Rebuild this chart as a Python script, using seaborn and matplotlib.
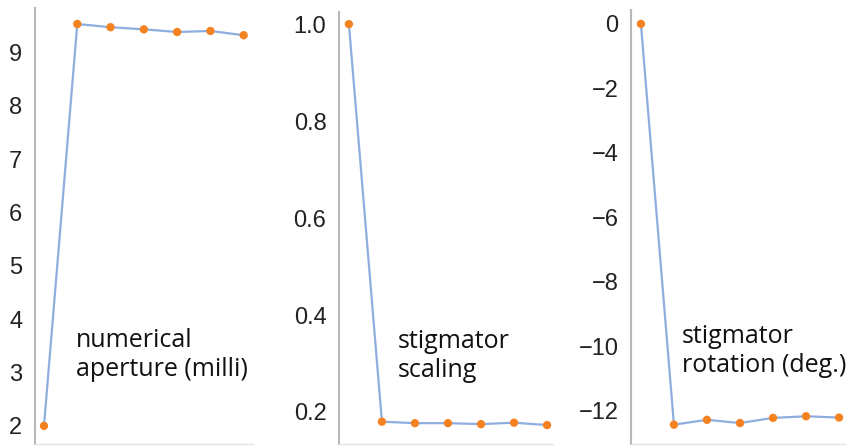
import matplotlib
matplotlib.use("Agg")
import matplotlib.pyplot as plt
import seaborn as sns
import pandas as pd
import numpy as np

steps = [0, 1, 2, 3, 4, 5, 6]
numerical_aperture = [2.0, 9.53, 9.47, 9.43, 9.38, 9.40, 9.32]
stigmator_scaling = [1.0, 0.180, 0.177, 0.177, 0.175, 0.178, 0.173]
stigmator_rotation = [0.0, -12.43, -12.28, -12.38, -12.22, -12.17, -12.21]

labels = ["numerical\naperture (milli)", "stigmator\nscaling", "stigmator\nrotation (deg.)"]
series = [numerical_aperture, stigmator_scaling, stigmator_rotation]
yticks = [[2, 3, 4, 5, 6, 7, 8, 9], [0.2, 0.4, 0.6, 0.8, 1.0], [0, -2, -4, -6, -8, -10, -12]]
yticklabels = [["2", "3", "4", "5", "6", "7", "8", "9"],
               ["0.2", "0.4", "0.6", "0.8", "1.0"],
               ["0", "\u22122", "\u22124", "\u22126", "\u22128", "\u221210", "\u221212"]]
ylims = [(1.66, 9.83), (0.134, 1.025), (-13.03, 0.43)]
xlims = [(-0.27, 6.28), (-0.30, 6.18), (-0.30, 6.18)]
positions = [(35, 253, 8), (339, 553, 12), (631, 845, 10)]
text_pos = [(76, 376), (398, 377), (682, 372)]

sns.set_theme(style="white")
plt.rcParams["font.family"] = ["Liberation Sans", "DejaVu Sans"]

W, H = 854, 446
fig = plt.figure(figsize=(W / 100, H / 100), dpi=100)

line_color = "#8eaee0"
pt_color = "#f58220"

for i in range(3):
    l, r, t = positions[i]
    b = 444
    ax = fig.add_axes([l / W, (H - b) / H, (r - l) / W, (b - t) / H])
    df = pd.DataFrame({"step": steps, "value": series[i]})
    sns.lineplot(data=df, x="step", y="value", ax=ax, color=line_color, linewidth=1.6)
    sns.scatterplot(data=df, x="step", y="value", ax=ax, color=pt_color, s=36,
                    edgecolor="none", zorder=3)
    ax.set_xlim(*xlims[i])
    ax.set_ylim(*ylims[i])
    ax.set_xticks([])
    ax.set_yticks(yticks[i])
    ax.set_yticklabels(yticklabels[i], fontsize=17, color="#222222")
    ax.tick_params(axis="y", length=0, pad=9)
    ax.set_xlabel("")
    ax.set_ylabel("")
    for s in ["top", "right"]:
        ax.spines[s].set_visible(False)
    ax.spines["left"].set_color("#b8b8b8")
    ax.spines["left"].set_linewidth(1.5)
    ax.spines["bottom"].set_color("#e4e4e4")
    ax.spines["bottom"].set_linewidth(1.0)
    tx, ty = text_pos[i]
    fig.text(tx / W, (H - ty) / H, labels[i], fontsize=18, family=["Open Sans", "DejaVu Sans"],
             color="#111111", ha="left", va="baseline", linespacing=1.2)

fig.savefig("out.png", dpi=100, facecolor="white")
